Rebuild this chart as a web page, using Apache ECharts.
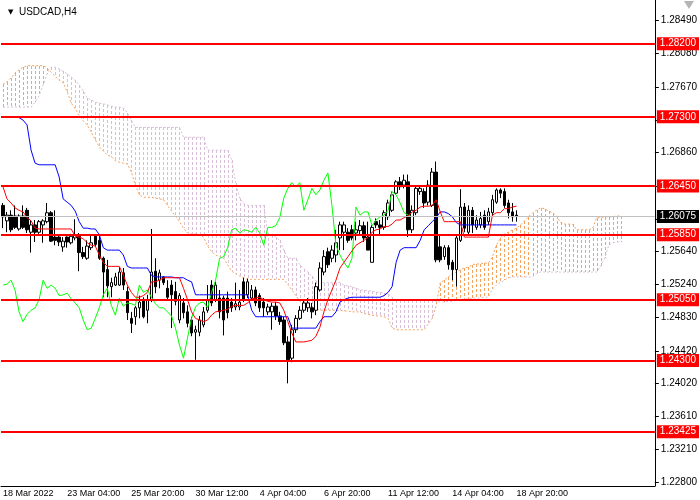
<!DOCTYPE html>
<html>
<head>
<meta charset="utf-8">
<title>USDCAD,H4</title>
<script src="https://cdn.jsdelivr.net/npm/echarts@6/dist/echarts.min.js"></script>
<style>
  html, body { margin: 0; padding: 0; background: #fff; }
  #main { width: 700px; height: 500px; }
</style>
</head>
<body>
<div id="main"></div>
<script>
// ---- data ----
var xTickLabels = ['18 Mar 2022', '23 Mar 04:00', '25 Mar 20:00', '30 Mar 12:00', '4 Apr 04:00',
  '6 Apr 20:00', '11 Apr 12:00', '14 Apr 04:00', '18 Apr 20:00'];
var yTickValues = [1.28490, 1.28080, 1.27670, 1.27260, 1.26860, 1.26450, 1.26040, 1.25640,
  1.25240, 1.24830, 1.24420, 1.24020, 1.23610, 1.23210, 1.22800];
var levelPrices = [1.28200, 1.27300, 1.26450, 1.25850, 1.25050, 1.24300, 1.23425];
var lastPrice = 1.26075;

var candleOpen = [1.2621,1.2602,1.2609,1.2608,1.2592,1.2608,1.2615,1.2588,1.2597,1.2588,
  1.2597,1.2601,1.2612,1.2582,1.2582,1.2570,1.2582,1.2575,1.2581,1.2583,
  1.2563,1.2556,1.2569,1.2583,1.2578,1.2556,1.2542,1.2521,1.2523,1.2523,
  1.2538,1.2515,1.2482,1.2484,1.2495,1.2505,1.2492,1.2505,1.2540,1.2529,
  1.2533,1.2519,1.2523,1.2515,1.2480,1.2501,1.2490,1.2480,1.2465,1.2465,
  1.2474,1.2492,1.2523,1.2505,1.2507,1.2507,1.2507,1.2502,1.2496,1.2496,
  1.2527,1.2511,1.2507,1.2517,1.2510,1.2502,1.2490,1.2490,1.2497,1.2485,
  1.2480,1.2453,1.2433,1.2468,1.2482,1.2492,1.2495,1.2495,1.2492,1.2517,
  1.2539,1.2564,1.2556,1.2560,1.2581,1.2588,1.2588,1.2591,1.2587,1.2590,
  1.2596,1.2582,1.2551,1.2601,1.2597,1.2594,1.2607,1.2615,1.2636,1.2650,
  1.2646,1.2650,1.2591,1.2612,1.2638,1.2638,1.2625,1.2621,1.2662,1.2570,
  1.2558,1.2569,1.2551,1.2542,1.2578,1.2619,1.2588,1.2615,1.2594,1.2597,
  1.2609,1.2601,1.2612,1.2625,1.2640,1.2638,1.2624,1.2613,1.2609];
var candleHigh = [1.2624,1.2613,1.2615,1.2621,1.2610,1.2621,1.2618,1.2603,1.2603,1.2603,
  1.2604,1.2624,1.2614,1.2615,1.2585,1.2582,1.2583,1.2586,1.2604,1.2587,
  1.2570,1.2578,1.2585,1.2585,1.2585,1.2558,1.2554,1.2532,1.2538,1.2545,
  1.2544,1.2521,1.2490,1.2497,1.2510,1.2508,1.2511,1.2592,1.2556,1.2542,
  1.2534,1.2529,1.2529,1.2527,1.2513,1.2507,1.2498,1.2484,1.2473,1.2485,
  1.2496,1.2523,1.2529,1.2527,1.2517,1.2510,1.2515,1.2507,1.2526,1.2517,
  1.2532,1.2531,1.2523,1.2521,1.2513,1.2507,1.2500,1.2501,1.2502,1.2490,
  1.2484,1.2460,1.2474,1.2486,1.2497,1.2505,1.2507,1.2501,1.2526,1.2551,
  1.2566,1.2569,1.2572,1.2591,1.2601,1.2601,1.2593,1.2597,1.2601,1.2603,
  1.2601,1.2601,1.2597,1.2605,1.2603,1.2615,1.2628,1.2638,1.2652,1.2656,
  1.2659,1.2659,1.2621,1.2646,1.2646,1.2642,1.2652,1.2667,1.2675,1.2585,
  1.2572,1.2572,1.2554,1.2585,1.2641,1.2624,1.2621,1.2619,1.2609,1.2613,
  1.2615,1.2618,1.2634,1.2642,1.2642,1.2642,1.2628,1.2624,1.2615];
var candleLow = [1.2593,1.2588,1.2588,1.2592,1.2590,1.2592,1.2587,1.2563,1.2576,1.2586,
  1.2575,1.2599,1.2576,1.2572,1.2571,1.2564,1.2569,1.2573,1.2578,1.2540,
  1.2555,1.2554,1.2566,1.2570,1.2554,1.2508,1.2508,1.2508,1.2522,1.2522,
  1.2517,1.2480,1.2464,1.2474,1.2482,1.2482,1.2476,1.2502,1.2513,1.2519,
  1.2523,1.2505,1.2470,1.2498,1.2476,1.2482,1.2471,1.2460,1.2431,1.2460,
  1.2471,1.2489,1.2497,1.2502,1.2482,1.2461,1.2482,1.2490,1.2492,1.2492,
  1.2502,1.2507,1.2505,1.2497,1.2490,1.2484,1.2486,1.2468,1.2480,1.2474,
  1.2449,1.2402,1.2428,1.2464,1.2480,1.2489,1.2490,1.2482,1.2486,1.2515,
  1.2535,1.2544,1.2551,1.2551,1.2566,1.2566,1.2575,1.2578,1.2578,1.2585,
  1.2576,1.2566,1.2551,1.2593,1.2585,1.2591,1.2603,1.2613,1.2634,1.2640,
  1.2642,1.2582,1.2587,1.2609,1.2634,1.2618,1.2621,1.2619,1.2551,1.2551,
  1.2554,1.2542,1.2529,1.2521,1.2576,1.2588,1.2585,1.2587,1.2591,1.2593,
  1.2591,1.2597,1.2608,1.2623,1.2630,1.2618,1.2605,1.2601,1.2601];
var candleClose = [1.2607,1.2609,1.2591,1.2594,1.2608,1.2594,1.2591,1.2597,1.2588,1.2601,
  1.2602,1.2612,1.2577,1.2578,1.2576,1.2577,1.2576,1.2583,1.2585,1.2563,
  1.2558,1.2571,1.2575,1.2573,1.2556,1.2539,1.2522,1.2526,1.2533,1.2539,
  1.2523,1.2489,1.2476,1.2495,1.2502,1.2484,1.2505,1.2539,1.2521,1.2538,
  1.2526,1.2508,1.2511,1.2503,1.2510,1.2489,1.2476,1.2464,1.2468,1.2480,
  1.2490,1.2505,1.2501,1.2523,1.2490,1.2480,1.2489,1.2495,1.2500,1.2502,
  1.2505,1.2527,1.2517,1.2501,1.2495,1.2495,1.2496,1.2497,1.2485,1.2478,
  1.2452,1.2431,1.2468,1.2482,1.2492,1.2501,1.2501,1.2490,1.2521,1.2544,
  1.2558,1.2548,1.2566,1.2575,1.2597,1.2597,1.2578,1.2581,1.2591,1.2596,
  1.2581,1.2566,1.2594,1.2597,1.2594,1.2612,1.2624,1.2634,1.2650,1.2644,
  1.2652,1.2591,1.2615,1.2642,1.2642,1.2624,1.2646,1.2662,1.2554,1.2554,
  1.2569,1.2548,1.2542,1.2581,1.2619,1.2593,1.2615,1.2597,1.2603,1.2605,
  1.2594,1.2613,1.2628,1.2640,1.2636,1.2621,1.2612,1.2607,1.26075];

// Ichimoku lines, one value per bar
var tenkan = [1.2644,1.2629,1.2624,1.2618,1.2615,1.2613,1.2606,1.2602,1.2593,1.2592,
  1.2592,1.2592,1.2592,1.2592,1.2592,1.2592,1.2592,1.2592,1.2583,1.2582,
  1.2580,1.2575,1.2572,1.2571,1.2560,1.2551,1.2546,1.2546,1.2546,1.2546,
  1.2535,1.2523,1.2514,1.2508,1.2508,1.2510,1.2514,1.2527,1.2527,1.2529,
  1.2532,1.2532,1.2532,1.2532,1.2532,1.2519,1.2505,1.2490,1.2482,1.2480,
  1.2478,1.2480,1.2486,1.2490,1.2491,1.2492,1.2493,1.2497,1.2498,1.2498,
  1.2498,1.2501,1.2506,1.2507,1.2508,1.2505,1.2503,1.2502,1.2502,1.2501,
  1.2492,1.2478,1.2464,1.2453,1.2453,1.2453,1.2454,1.2455,1.2460,1.2471,
  1.2490,1.2505,1.2517,1.2529,1.2544,1.2551,1.2558,1.2565,1.2572,1.2575,
  1.2578,1.2582,1.2588,1.2591,1.2592,1.2595,1.2595,1.2598,1.2603,1.2603,
  1.2606,1.2608,1.2613,1.2615,1.2619,1.2620,1.2620,1.2621,1.2628,1.2613,
  1.2601,1.2601,1.2601,1.2601,1.2601,1.2582,1.2582,1.2582,1.2582,1.2582,
  1.2582,1.2582,1.2609,1.2612,1.2612,1.2617,1.2617,1.2619,1.2620];
var kijun = [1.2730,1.2730,1.2730,1.2730,1.2729,1.2726,1.2720,1.2689,1.2673,1.2671,
  1.2671,1.2671,1.2671,1.2671,1.2656,1.2629,1.2625,1.2621,1.2614,1.2601,
  1.2593,1.2593,1.2592,1.2592,1.2585,1.2569,1.2566,1.2566,1.2566,1.2566,
  1.2560,1.2546,1.2544,1.2544,1.2544,1.2544,1.2544,1.2535,1.2533,1.2533,
  1.2533,1.2533,1.2533,1.2532,1.2532,1.2532,1.2529,1.2527,1.2511,1.2511,
  1.2511,1.2511,1.2511,1.2511,1.2511,1.2511,1.2511,1.2511,1.2511,1.2511,
  1.2511,1.2511,1.2492,1.2484,1.2484,1.2484,1.2484,1.2484,1.2484,1.2484,
  1.2484,1.2484,1.2470,1.2470,1.2470,1.2470,1.2470,1.2470,1.2470,1.2478,
  1.2484,1.2484,1.2484,1.2490,1.2502,1.2505,1.2507,1.2508,1.2508,1.2508,
  1.2508,1.2508,1.2508,1.2508,1.2508,1.2510,1.2514,1.2521,1.2551,1.2566,
  1.2569,1.2569,1.2569,1.2569,1.2578,1.2591,1.2596,1.2601,1.2606,1.2613,
  1.2613,1.2611,1.2607,1.2600,1.2597,1.2597,1.2597,1.2597,1.2597,1.2597,
  1.2597,1.2597,1.2597,1.2597,1.2597,1.2597,1.2597,1.2597,1.2597];
var chikou = [1.2523,1.2524,1.2529,1.2517,1.2490,1.2478,1.2487,1.2492,1.2495,1.2505,
  1.2529,1.2519,1.2523,1.2519,1.2510,1.2511,1.2513,1.2506,1.2501,1.2495,
  1.2480,1.2468,1.2470,1.2482,1.2495,1.2511,1.2519,1.2498,1.2486,1.2507,
  1.2497,1.2501,1.2500,1.2498,1.2523,1.2514,1.2517,1.2508,1.2500,1.2495,
  1.2495,1.2490,1.2485,1.2470,1.2449,1.2433,1.2458,1.2482,1.2496,1.2501,
  1.2502,1.2495,1.2514,1.2529,1.2556,1.2558,1.2569,1.2591,1.2593,1.2587,
  1.2591,1.2590,1.2588,1.2594,1.2587,1.2572,1.2594,1.2594,1.2596,1.2606,
  1.2630,1.2642,1.2649,1.2644,1.2649,1.2615,1.2628,1.2642,1.2634,1.2640,
  1.2652,1.2661,1.2621,1.2572,1.2560,1.2551,1.2544,1.2556,1.2619,1.2609,
  1.2613,1.2613,1.2596,1.2603,1.2607,1.2609,1.2615,1.2638,1.2634,1.2624,
  1.2612,1.2609,1.2607];
var spanA = [1.2770,1.2773,1.2778,1.2784,1.2788,1.2791,1.2793,1.2793,1.2793,1.2793,
  1.2793,1.2790,1.2785,1.2780,1.2775,1.2772,1.2761,1.2747,1.2740,1.2732,
  1.2725,1.2720,1.2711,1.2702,1.2693,1.2688,1.2683,1.2681,1.2676,1.2674,
  1.2673,1.2672,1.2662,1.2646,1.2634,1.2631,1.2631,1.2631,1.2630,1.2629,
  1.2628,1.2621,1.2614,1.2608,1.2601,1.2593,1.2587,1.2586,1.2586,1.2585,
  1.2582,1.2571,1.2564,1.2560,1.2558,1.2556,1.2548,1.2540,1.2537,1.2534,
  1.2532,1.2530,1.2530,1.2530,1.2530,1.2530,1.2530,1.2530,1.2530,1.2530,
  1.2530,1.2524,1.2517,1.2510,1.2503,1.2500,1.2497,1.2495,1.2494,1.2492,
  1.2492,1.2492,1.2492,1.2492,1.2492,1.2491,1.2491,1.2490,1.2490,1.2490,
  1.2488,1.2487,1.2486,1.2485,1.2485,1.2484,1.2482,1.2470,1.2468,1.2468,
  1.2468,1.2468,1.2468,1.2468,1.2468,1.2468,1.2475,1.2482,1.2498,1.2526,
  1.2529,1.2533,1.2537,1.2539,1.2542,1.2544,1.2545,1.2548,1.2549,1.2549,
  1.2550,1.2550,1.2558,1.2572,1.2581,1.2586,1.2588,1.2591,1.2593,1.2597,
  1.2602,1.2607,1.2612,1.2615,1.2618,1.2617,1.2614,1.2612,1.2608,1.2600,
  1.2598,1.2598,1.2598,1.2591,1.2591,1.2591,1.2591,1.2593,1.2606,1.2606,
  1.2607,1.2607,1.2607,1.2608,1.2608];
var spanB = [1.2742,1.2742,1.2742,1.2742,1.2742,1.2742,1.2742,1.2742,1.2748,1.2756,
  1.2769,1.2783,1.2791,1.2791,1.2789,1.2786,1.2783,1.2779,1.2775,1.2769,
  1.2762,1.2753,1.2751,1.2748,1.2747,1.2746,1.2745,1.2743,1.2742,1.2742,
  1.2741,1.2735,1.2726,1.2717,1.2717,1.2717,1.2717,1.2717,1.2717,1.2717,
  1.2717,1.2717,1.2717,1.2717,1.2717,1.2705,1.2705,1.2705,1.2705,1.2705,
  1.2705,1.2689,1.2689,1.2689,1.2689,1.2689,1.2689,1.2677,1.2649,1.2630,
  1.2623,1.2621,1.2621,1.2621,1.2621,1.2621,1.2587,1.2585,1.2582,1.2578,
  1.2566,1.2556,1.2556,1.2556,1.2548,1.2543,1.2539,1.2534,1.2528,1.2526,
  1.2526,1.2526,1.2526,1.2526,1.2526,1.2523,1.2522,1.2521,1.2519,1.2517,
  1.2517,1.2516,1.2516,1.2514,1.2514,1.2513,1.2512,1.2508,1.2505,1.2505,
  1.2505,1.2505,1.2505,1.2505,1.2505,1.2505,1.2505,1.2505,1.2503,1.2502,
  1.2502,1.2503,1.2503,1.2505,1.2505,1.2506,1.2506,1.2507,1.2507,1.2507,
  1.2508,1.2508,1.2518,1.2523,1.2526,1.2529,1.2532,1.2533,1.2533,1.2533,
  1.2533,1.2533,1.2533,1.2537,1.2539,1.2539,1.2539,1.2539,1.2539,1.2539,
  1.2539,1.2539,1.2539,1.2539,1.2539,1.2539,1.2539,1.2539,1.2539,1.2546,
  1.2556,1.2572,1.2575,1.2576,1.2576];

// ---- chart ----
var totalBars = 163;       // visible slots incl. empty space on the right
var labelStep = 16;
var lastLabelBar = 128;
var yMin = 1.22757, yMax = 1.28738;
var fontName = 'Liberation Sans, Arial, sans-serif';
var cloudUp = '#F4A460', cloudDown = '#D8BFD8';

var categories = [];
for (var i = 0; i < totalBars; i++) categories.push(i);

function pad(arr) {
  var out = arr.slice();
  while (out.length < totalBars) out.push(null);
  return out;
}

var candles = candleOpen.map(function (o, i) {
  return [o, candleClose[i], candleLow[i], candleHigh[i]];
});
var cloud = spanA.map(function (a, i) { return [i, a, spanB[i]]; });

function showTick(index) {
  return index % labelStep === 0 && index <= lastLabelBar;
}

var levelLines = levelPrices.map(function (p) {
  return {
    yAxis: p,
    lineStyle: { color: '#FF0000', width: 2, type: 'solid' },
    label: { backgroundColor: '#FF0000', color: '#fff' }
  };
});
levelLines.unshift({
  yAxis: lastPrice,
  lineStyle: { color: '#C0C0C0', width: 1, type: 'solid' },
  label: { backgroundColor: '#000', color: '#fff' }
});

// one dotted column per bar between the two spans (MT4 style hatching)
function renderCloud(params, api) {
  var i = api.value(0), a = api.value(1), b = api.value(2);
  var p1 = api.coord([i, a]);
  var p2 = api.coord([i, b]);
  var x = Math.round(p1[0]);
  var yTop = Math.round(Math.min(p1[1], p2[1]));
  var yBot = Math.round(Math.max(p1[1], p2[1]));
  var fill = a >= b ? cloudUp : cloudDown;
  var dashes = [];
  for (var y = yTop; y < yBot; y += 5) {
    dashes.push({
      type: 'rect',
      shape: { x: x, y: y, width: 1, height: Math.min(3, yBot - y) },
      style: { fill: fill }
    });
  }
  return { type: 'group', children: dashes };
}

var myChart = echarts.init(document.getElementById('main'), null, { renderer: 'canvas' });
myChart.setOption({
  animation: false,
  backgroundColor: '#fff',
  textStyle: { fontFamily: fontName },
  title: {
    text: '{t|▼}  USDCAD,H4',
    left: 3,
    top: 2,
    textStyle: {
      fontSize: 10,
      fontWeight: 'normal',
      color: '#000',
      fontFamily: fontName,
      rich: { t: { fontSize: 7, color: '#000', fontFamily: 'DejaVu Sans' } }
    }
  },
  graphic: [{
    type: 'polygon',
    right: 6,
    top: 1,
    shape: { points: [[0, 0], [10, 0], [5, 8]] },
    style: { fill: '#B4B4B4' }
  }],
  grid: { left: 0, right: 45, top: 0, bottom: 14, containLabel: false },
  xAxis: {
    type: 'category',
    data: categories,
    boundaryGap: true,
    axisLine: { lineStyle: { color: '#000', width: 1 } },
    axisTick: { interval: showTick, length: 4, lineStyle: { color: '#000' } },
    axisLabel: {
      interval: showTick,
      align: 'left',
      margin: 3,
      fontSize: 9,
      color: '#000',
      fontFamily: fontName,
      formatter: function (v) { return xTickLabels[v / labelStep] || ''; }
    },
    splitLine: { show: false }
  },
  yAxis: {
    type: 'value',
    position: 'right',
    min: yMin,
    max: yMax,
    scale: true,
    axisLine: { show: true, lineStyle: { color: '#000', width: 1 } },
    axisTick: { show: true, length: 4, customValues: yTickValues, lineStyle: { color: '#000' } },
    axisLabel: {
      customValues: yTickValues,
      margin: 6,
      fontSize: 10,
      color: '#000',
      fontFamily: fontName,
      formatter: function (v) { return v.toFixed(5); }
    },
    splitLine: { show: false }
  },
  series: [
    {
      name: 'cloud',
      type: 'custom',
      data: cloud,
      encode: { x: 0, y: [1, 2] },
      z: 1,
      renderItem: renderCloud
    },
    {
      name: 'Senkou A', type: 'line', data: pad(spanA), symbol: 'none', z: 1,
      lineStyle: { color: cloudUp, width: 1, type: [2, 2] }
    },
    {
      name: 'Senkou B', type: 'line', data: pad(spanB), symbol: 'none', z: 1,
      lineStyle: { color: cloudDown, width: 1, type: [2, 2] }
    },
    {
      name: 'levels', type: 'line', data: pad([]), symbol: 'none', clip: false, z: 6,
      markLine: {
        silent: true,
        symbol: ['none', 'none'],
        precision: 5,
        animation: false,
        label: {
          show: true,
          position: 'end',
          distance: 2,
          padding: [2, 3, 1, 3],
          fontSize: 10,
          fontFamily: fontName,
          formatter: function (p) { return Number(p.value).toFixed(5); }
        },
        data: levelLines
      }
    },
    {
      name: 'USDCAD', type: 'candlestick', data: candles, barWidth: 3, z: 3,
      itemStyle: {
        color: '#fff', color0: '#000',
        borderColor: '#000', borderColor0: '#000', borderWidth: 1
      }
    },
    {
      name: 'Chikou', type: 'line', data: pad(chikou), symbol: 'none', z: 4,
      lineStyle: { color: '#00FF00', width: 1 }
    },
    {
      name: 'Kijun', type: 'line', data: pad(kijun), symbol: 'none', z: 4,
      lineStyle: { color: '#0000FF', width: 1 }
    },
    {
      name: 'Tenkan', type: 'line', data: pad(tenkan), symbol: 'none', z: 4,
      lineStyle: { color: '#FF0000', width: 1 }
    }
  ]
});
</script>
</body>
</html>
